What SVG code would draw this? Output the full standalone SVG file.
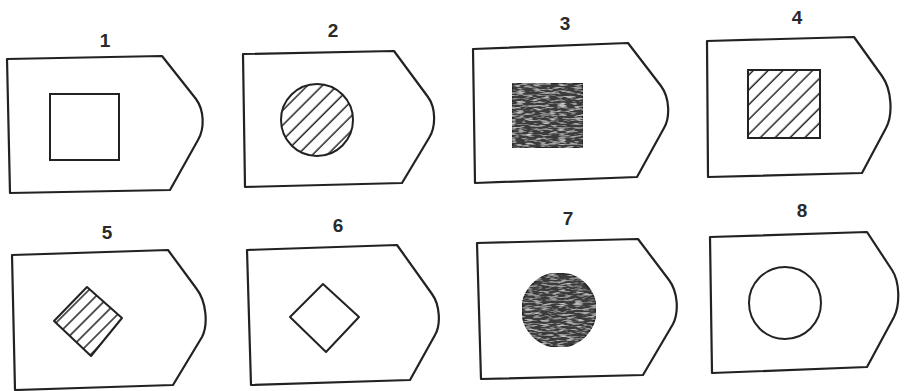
<svg xmlns="http://www.w3.org/2000/svg" width="906" height="391" viewBox="0 0 906 391">
<style>
.outer{fill:#fff;stroke:#222;stroke-width:2.2;stroke-linejoin:round}
.inner{stroke:#222;stroke-width:2;fill:none}
.lbl{font-family:"Liberation Sans",Arial,sans-serif;font-size:19px;font-weight:bold;fill:#2a2a2a;text-anchor:middle}
</style>
<defs>
<pattern id="hatch" patternUnits="userSpaceOnUse" width="10.5" height="10.5" patternTransform="rotate(45)">
<line x1="5" y1="0" x2="5" y2="10.5" stroke="#222" stroke-width="1.5"/>
</pattern>
<pattern id="hatch5" patternUnits="userSpaceOnUse" width="9.4" height="9.4" patternTransform="rotate(45)">
<line x1="4.7" y1="0" x2="4.7" y2="9.4" stroke="#222" stroke-width="1.5"/>
</pattern>
<filter id="grain" x="0" y="0" width="1" height="1">
<feTurbulence type="fractalNoise" baseFrequency="0.12 0.55" numOctaves="2" seed="4" result="n"/>
<feColorMatrix in="n" type="matrix" values="0 0 0 0 1  0 0 0 0 1  0 0 0 0 1  1.6 0 0 0 -0.75" result="w"/>
<feComposite in="w" in2="SourceGraphic" operator="atop"/>
</filter>
</defs>
<rect width="906" height="391" fill="#fff"/>

<g id="n1">
<text class="lbl" x="105" y="47">1</text>
<path class="outer" d="M7,59 L162,56 L196,99 C204,110 205,128 198,140 L170,190 L10,193 Z"/>
<rect class="inner" x="50" y="94" width="69" height="66"/>
</g>
<g id="n2">
<text class="lbl" x="333" y="37">2</text>
<path class="outer" d="M243,54 L394,51 L428,97 C436,108 436,127 429,138 L402,183 L245,187 Z"/>
<circle cx="317" cy="120" r="36" fill="url(#hatch)" stroke="#222" stroke-width="2"/>
</g>
<g id="n3">
<text class="lbl" x="565" y="30">3</text>
<path class="outer" d="M473,49 L628,43 L661,86 C670,98 670,118 664,128 L637,177 L475,183 Z"/>
<rect x="512" y="83" width="71" height="65" fill="#3a3a3a" stroke="#222" stroke-width="1.5" filter="url(#grain)"/>
</g>
<g id="n4">
<text class="lbl" x="797" y="24">4</text>
<path class="outer" d="M707,41 L854,37 L882,76 C892,90 893,115 886,128 L862,173 L708,177 Z"/>
<rect x="748" y="70" width="72" height="68" fill="url(#hatch)" stroke="#222" stroke-width="2"/>
</g>
<g id="n5">
<text class="lbl" x="107" y="239">5</text>
<path class="outer" d="M12,255 L168,250 L196,288 C207,302 208,325 202,337 L173,385 L15,390 Z"/>
<polygon points="87,287 122,318 91,356 54,321" fill="url(#hatch5)" stroke="#222" stroke-width="2" stroke-linejoin="round"/>
</g>
<g id="n6">
<text class="lbl" x="338" y="232">6</text>
<path class="outer" d="M247,250 L397,245 L432,294 C440,305 441,325 435,335 L410,380 L251,385 Z"/>
<polygon class="inner" points="323,284 359,317 326,352 290,317" stroke-linejoin="round"/>
</g>
<g id="n7">
<text class="lbl" x="568" y="225">7</text>
<path class="outer" d="M477,243 L638,239 L669,280 C678,292 679,312 673,324 L643,375 L481,379 Z"/>
<circle cx="559" cy="310" r="37" fill="#3a3a3a" stroke="#222" stroke-width="1.5" filter="url(#grain)"/>
</g>
<g id="n8">
<text class="lbl" x="802" y="217">8</text>
<path class="outer" d="M710,237 L867,232 L892,270 C900,282 900,305 894,317 L867,367 L712,373 Z"/>
<circle class="inner" cx="785" cy="303" r="36"/>
</g>
<g id="connectors"></g>
</svg>
